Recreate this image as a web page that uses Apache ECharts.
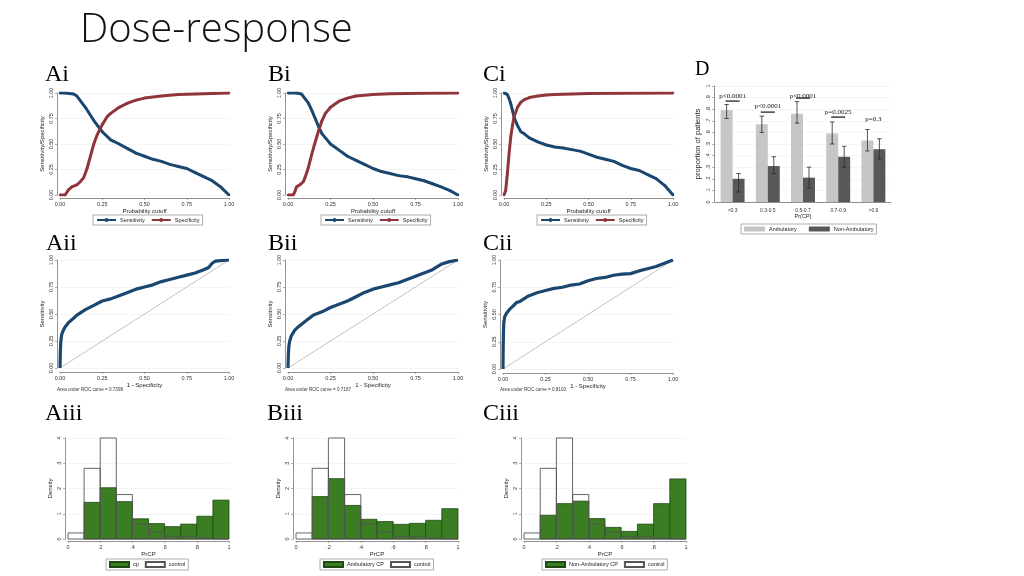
<!DOCTYPE html>
<html><head><meta charset="utf-8">
<script src="https://cdn.jsdelivr.net/npm/echarts@6/dist/echarts.min.js"></script>
<style>html,body{margin:0;padding:0;background:#fff}#c{width:1024px;height:576px}</style>
</head><body><div id="c"></div><script>
// ---------- tick labels ----------
const probTicks = ['0.00','0.25','0.50','0.75','1.00'];
const histXTicks = ['0','.2','.4','.6','.8','1'];
const histYTicks = ['0','1','2','3','4'];
const propTicks = ['0','.1','.2','.3','.4','.5','.6','.7','.8','.9','1'];

// ---------- row i: sensitivity / specificity vs cutoff ----------
const sensA = [[0,1],[0.03,1],[0.08,0.99],[0.1,0.97],[0.15,0.86],[0.2,0.73],[0.25,0.62],[0.3,0.54],[0.35,0.5],[0.4,0.455],[0.45,0.41],[0.5,0.38],[0.55,0.35],[0.6,0.33],[0.65,0.3],[0.7,0.28],[0.75,0.26],[0.8,0.22],[0.85,0.18],[0.9,0.14],[0.95,0.08],[1,0]];
const specA = [[0,0],[0.03,0],[0.05,0.05],[0.07,0.08],[0.1,0.1],[0.12,0.13],[0.14,0.17],[0.16,0.26],[0.18,0.38],[0.2,0.5],[0.22,0.59],[0.25,0.69],[0.28,0.77],[0.3,0.8],[0.35,0.86],[0.4,0.9],[0.45,0.93],[0.5,0.95],[0.6,0.97],[0.7,0.985],[0.8,0.99],[0.9,0.995],[1,1]];
const sensB = [[0,1],[0.05,1],[0.08,0.99],[0.1,0.945],[0.12,0.9],[0.14,0.83],[0.16,0.75],[0.18,0.67],[0.2,0.6],[0.22,0.56],[0.25,0.5],[0.3,0.44],[0.35,0.38],[0.4,0.34],[0.45,0.3],[0.5,0.26],[0.55,0.23],[0.6,0.21],[0.65,0.19],[0.7,0.18],[0.75,0.16],[0.8,0.14],[0.85,0.11],[0.9,0.08],[0.95,0.045],[1,0]];
const specB = [[0,0],[0.03,0],[0.04,0.03],[0.05,0.08],[0.07,0.1],[0.09,0.13],[0.1,0.17],[0.12,0.27],[0.14,0.4],[0.16,0.52],[0.18,0.63],[0.2,0.73],[0.22,0.8],[0.25,0.86],[0.3,0.92],[0.35,0.95],[0.4,0.97],[0.5,0.985],[0.6,0.993],[0.8,0.998],[1,1]];
const sensC = [[0,1],[0.01,1],[0.02,0.985],[0.03,0.945],[0.04,0.895],[0.05,0.83],[0.06,0.76],[0.08,0.68],[0.1,0.62],[0.12,0.6],[0.15,0.56],[0.2,0.52],[0.25,0.49],[0.3,0.47],[0.35,0.46],[0.4,0.445],[0.45,0.43],[0.5,0.4],[0.55,0.37],[0.6,0.35],[0.65,0.33],[0.7,0.29],[0.75,0.26],[0.8,0.24],[0.85,0.2],[0.9,0.16],[0.95,0.095],[1,0]];
const specC = [[0,0],[0.01,0.045],[0.02,0.21],[0.03,0.405],[0.04,0.57],[0.05,0.68],[0.06,0.77],[0.08,0.86],[0.1,0.91],[0.12,0.935],[0.15,0.955],[0.2,0.97],[0.25,0.98],[0.3,0.985],[0.4,0.99],[0.5,0.995],[0.7,0.998],[1,1]];

// ---------- row ii: ROC curves (1 - specificity, sensitivity) ----------
const rocA = [[0,0],[0.002,0.15],[0.005,0.25],[0.01,0.31],[0.02,0.35],[0.03,0.38],[0.05,0.42],[0.08,0.46],[0.1,0.49],[0.15,0.54],[0.2,0.58],[0.25,0.62],[0.3,0.64],[0.35,0.67],[0.4,0.7],[0.45,0.73],[0.5,0.75],[0.55,0.77],[0.6,0.8],[0.65,0.82],[0.7,0.84],[0.75,0.86],[0.8,0.88],[0.85,0.91],[0.88,0.93],[0.9,0.97],[0.92,0.99],[0.95,0.995],[1,1]];
const rocB = [[0,0],[0.002,0.12],[0.005,0.2],[0.01,0.25],[0.02,0.3],[0.04,0.35],[0.06,0.38],[0.1,0.43],[0.15,0.49],[0.2,0.52],[0.25,0.56],[0.3,0.59],[0.35,0.62],[0.4,0.66],[0.45,0.7],[0.5,0.73],[0.55,0.75],[0.6,0.77],[0.65,0.79],[0.7,0.82],[0.75,0.85],[0.8,0.88],[0.85,0.91],[0.9,0.96],[0.95,0.985],[1,1]];
const rocC = [[0,0],[0.001,0.2],[0.003,0.35],[0.005,0.43],[0.01,0.48],[0.02,0.51],[0.04,0.55],[0.06,0.58],[0.08,0.61],[0.1,0.62],[0.15,0.67],[0.2,0.7],[0.25,0.72],[0.3,0.74],[0.35,0.75],[0.4,0.77],[0.45,0.78],[0.5,0.81],[0.55,0.83],[0.6,0.84],[0.65,0.86],[0.7,0.87],[0.75,0.875],[0.8,0.9],[0.85,0.92],[0.9,0.94],[0.95,0.97],[1,1]];
const refLine = [[0,0],[1,1]];
const aucTexts = ['Area under ROC curve = 0.7399','Area under ROC curve = 0.7167','Area under ROC curve = 0.8103'];

// ---------- row iii: histograms of PrCP (density) ----------
const binStarts = [0,0.1,0.2,0.3,0.4,0.5,0.6,0.7,0.8,0.9];
const BIN_W = 0.1;
const cpAll = [0,1.45,2.03,1.48,0.8,0.61,0.49,0.59,0.9,1.54];
const cpAmb = [0,1.68,2.39,1.33,0.78,0.69,0.58,0.62,0.74,1.2];
const cpNonAmb = [0,0.94,1.4,1.5,0.81,0.46,0.3,0.59,1.4,2.38];
const control = [0.24,2.8,4.0,1.76,0.58,0.26,0.1,0.1,0.04,0.01];

// ---------- panel D ----------
const dCats = ['<0.3','0.3-0.5','0.5-0.7','0.7-0.9','>0.9'];
const ambulatory = [0.79,0.67,0.76,0.59,0.53];
const nonAmbulatory = [0.2,0.31,0.21,0.39,0.455];
const ambLo = [0.72,0.6,0.68,0.5,0.44];
const ambHi = [0.84,0.74,0.865,0.69,0.625];
const naLo = [0.086,0.245,0.12,0.3,0.37];
const naHi = [0.245,0.39,0.3,0.48,0.545];
const pLabels = ['p<0.0001','p<0.0001','p<0.0001','p=0.0025','p=0.3'];
const pTextY = [0.914,0.827,0.914,0.775,0.71];
const pLineY = [0.87,0.775,0.896,0.732,null];

// ---------- styling ----------
const FONT = 'Liberation Sans';
const BLUE = '#1a476f', RED = '#90353b', GREEN = '#3a7d22', GREEN_EDGE = '#1f4a12';
const AXIS_COL = '#777';
const BAR_GAP = 0.32;

const grids = [
  {left:60, top:93, width:169, height:102},   // 0 Ai
  {left:288, top:93, width:170, height:102},  // 1 Bi
  {left:504, top:93, width:169, height:102},  // 2 Ci
  {left:60, top:260, width:169, height:108},  // 3 Aii
  {left:288, top:260, width:170, height:108}, // 4 Bii
  {left:503, top:260, width:170, height:109}, // 5 Cii
  {left:68, top:438, width:161, height:101},  // 6 Aiii
  {left:296, top:438, width:162, height:101}, // 7 Biii
  {left:524, top:438, width:162, height:101}, // 8 Ciii
  {left:715, top:86, width:176, height:116}   // 9 D
];

const lblStyle = {fontSize:5.5, fontFamily:FONT, color:'#333'};
function valAxis(gi, dim, o) {
  return {
    type:'value', gridIndex:gi, min:o.min, max:o.max, interval:o.interval,
    offset:o.offset || 3,
    name:o.name, nameLocation:'middle', nameGap:o.nameGap,
    nameTextStyle:{fontSize:o.nameSize || 6, fontFamily:FONT, color:'#222'},
    axisLine:{show:true, onZero:false, lineStyle:{color:AXIS_COL, width:0.8}},
    axisTick:{show:true, length:2, lineStyle:{color:AXIS_COL, width:0.6}},
    axisLabel:Object.assign({margin:o.margin || 3, formatter:o.fmt, rotate: dim==='y' ? 90 : 0}, lblStyle),
    splitLine:{show: dim==='y', lineStyle:{color:'#eeeeee', width:0.6}}
  };
}

const xAxes = [], yAxes = [];
const probFmt = v => probTicks[Math.round(v/0.25)];
for (let g=0; g<3; g++) {
  xAxes.push(valAxis(g,'x',{min:0,max:1,interval:0.25,name:'Probability cutoff',nameGap:8,fmt:probFmt}));
  yAxes.push(valAxis(g,'y',{min:0,max:1,interval:0.25,name:'Sensitivity/Specificity',nameGap:12,fmt:probFmt}));
}
for (let g=3; g<6; g++) {
  xAxes.push(valAxis(g,'x',{min:0,max:1,interval:0.25,name:'1 - Specificity',nameGap:9,fmt:probFmt,offset:4}));
  yAxes.push(valAxis(g,'y',{min:0,max:1,interval:0.25,name:'Sensitivity',nameGap:12,fmt:probFmt}));
}
for (let g=6; g<9; g++) {
  xAxes.push(valAxis(g,'x',{min:0,max:1,interval:0.2,name:'PrCP',nameGap:8,offset:2,fmt:v=>histXTicks[Math.round(v/0.2)]}));
  yAxes.push(valAxis(g,'y',{min:0,max:4,interval:1,name:'Density',nameGap:12,fmt:v=>histYTicks[Math.round(v)]}));
}
xAxes.push({
  type:'category', gridIndex:9, data:dCats, name:'Pr(CP)', nameLocation:'middle', nameGap:10,
  nameTextStyle:{fontSize:5.5, fontFamily:FONT, color:'#222'},
  axisLine:{show:true, lineStyle:{color:AXIS_COL, width:0.8}}, axisTick:{show:false},
  axisLabel:Object.assign({margin:6}, lblStyle, {fontSize:5})
});
yAxes.push(valAxis(9,'y',{min:0,max:1,interval:0.1,name:'proportion of patients',nameGap:12,nameSize:7.5,offset:1,fmt:v=>propTicks[Math.round(v*10)]}));

const series = [];
function lineSeries(name, gi, data, color, width, sym) {
  return {type:'line', name, xAxisIndex:gi, yAxisIndex:gi, data, color,
    symbol: sym ? 'circle' : 'none', symbolSize:2.5, showSymbol: !!sym,
    lineStyle:{color, width}, itemStyle:{color}, silent:true, z:3};
}
[[sensA,specA],[sensB,specB],[sensC,specC]].forEach((p,g)=>{
  series.push(lineSeries('Sensitivity', g, p[0], BLUE, 3, true));
  series.push(lineSeries('Specificity', g, p[1], RED, 3, true));
});
[rocA,rocB,rocC].forEach((r,i)=>{
  const g = 3+i;
  series.push(Object.assign(lineSeries('ref'+g, g, refLine, '#999', 0.6, false), {z:2}));
  series.push(lineSeries('roc'+g, g, r, BLUE, 3.2, false));
});

function histSeries(name, gi, values, isCtrl) {
  return {
    type:'custom', name, xAxisIndex:gi, yAxisIndex:gi, silent:true,
    data: binStarts.map((b,i)=>[b, values[i]]),
    encode:{x:0, y:1},
    itemStyle: isCtrl ? {color:'#ffffff', borderColor:'#555', borderWidth:0.8}
                      : {color:GREEN, borderColor:GREEN_EDGE, borderWidth:0.8},
    z: isCtrl ? 4 : 3,
    renderItem: (params, api) => {
      const x0 = api.value(0), h = api.value(1);
      if (!h) return null;
      const p0 = api.coord([x0, h]), p1 = api.coord([x0 + BIN_W, 0]);
      return {type:'rect',
        shape:{x:p0[0], y:p0[1], width:p1[0]-p0[0], height:p1[1]-p0[1]},
        style: isCtrl ? {fill:'none', stroke:'#555', lineWidth:0.9}
                      : {fill:GREEN, stroke:GREEN_EDGE, lineWidth:0.8}};
    }
  };
}
series.push(histSeries('cp', 6, cpAll, false));
series.push(histSeries('control', 6, control, true));
series.push(histSeries('Ambulatory CP', 7, cpAmb, false));
series.push(histSeries('control', 7, control, true));
series.push(histSeries('Non-Ambulatory CP', 8, cpNonAmb, false));
series.push(histSeries('control', 8, control, true));

// panel D bars
series.push({type:'bar', name:'Ambulatory', xAxisIndex:9, yAxisIndex:9, data:ambulatory,
  barGap:'0%', barCategoryGap:(BAR_GAP*100)+'%', itemStyle:{color:'#c6c6c6'}, silent:true});
series.push({type:'bar', name:'Non-Ambulatory', xAxisIndex:9, yAxisIndex:9, data:nonAmbulatory,
  barGap:'0%', barCategoryGap:(BAR_GAP*100)+'%', itemStyle:{color:'#585858'}, silent:true});
function errSeries(lo, hi, side) {
  return {type:'custom', name:'err'+side, xAxisIndex:9, yAxisIndex:9, silent:true, z:5,
    data: lo.map((l,i)=>[i, l, hi[i]]), encode:{x:0, y:[1,2]},
    renderItem:(params, api)=>{
      const i = api.value(0);
      const pl = api.coord([i, api.value(1)]), ph = api.coord([i, api.value(2)]);
      const band = api.size([1,0])[0];
      const bw = band*(1-BAR_GAP)/2;
      const x = pl[0] + side*bw/2;
      const cap = 2.2, st = {stroke:'#2a2a2a', lineWidth:0.8};
      return {type:'group', children:[
        {type:'line', shape:{x1:x, y1:pl[1], x2:x, y2:ph[1]}, style:st},
        {type:'line', shape:{x1:x-cap, y1:pl[1], x2:x+cap, y2:pl[1]}, style:st},
        {type:'line', shape:{x1:x-cap, y1:ph[1], x2:x+cap, y2:ph[1]}, style:st}
      ]};
    }};
}
series.push(errSeries(ambLo, ambHi, -1));
series.push(errSeries(naLo, naHi, 1));
series.push({type:'custom', name:'pvals', xAxisIndex:9, yAxisIndex:9, silent:true, z:6,
  data: pLabels.map((t,i)=>[i, pTextY[i]]),
  encode:{x:0, y:1},
  renderItem:(params, api)=>{
    const i = api.value(0);
    const pt = api.coord([i, api.value(1)]);
    const children = [{type:'text', style:{text:pLabels[params.dataIndex], x:pt[0], y:pt[1],
      align:'center', verticalAlign:'middle', font:'7px "Liberation Serif"', fill:'#111'}}];
    const ly = pLineY[params.dataIndex];
    if (ly != null) {
      const pl = api.coord([i, ly]);
      children.push({type:'line', shape:{x1:pl[0]-7, y1:pl[1], x2:pl[0]+7, y2:pl[1]}, style:{stroke:'#111', lineWidth:1.2}});
    }
    return {type:'group', children};
  }});

function legend(left, top, data, extra) {
  return Object.assign({left, top, data, orient:'horizontal', itemWidth:19, itemHeight:5, itemGap:6,
    padding:[2,3], borderColor:'#777', borderWidth:0.6, backgroundColor:'#fff', selectedMode:false,
    textStyle:{fontSize:5.5, fontFamily:FONT, color:'#222', padding:[0,0,0,-1]}}, extra || {});
}
const legends = [
  legend(93, 215, ['Sensitivity','Specificity']),
  legend(321, 215, ['Sensitivity','Specificity']),
  legend(537, 215, ['Sensitivity','Specificity']),
  legend(106, 559, ['cp','control'], {icon:'rect'}),
  legend(320, 559, ['Ambulatory CP','control'], {icon:'rect'}),
  legend(542, 559, ['Non-Ambulatory CP','control'], {icon:'rect'}),
  legend(741, 224, ['Ambulatory','Non-Ambulatory'], {icon:'rect', itemWidth:21, itemHeight:5, itemGap:12})
];

function txt(text, x, y, font, extra) {
  return {type:'text', x, y, silent:true, style:Object.assign({text, font, fill:'#000', align:'left', verticalAlign:'middle'}, extra || {})};
}
const panelFont = '24px "Liberation Serif"';
const graphics = [
  txt('Dose-response', 80, 31, '300 40px "Open Sans"', {fill:'#111'}),
  txt('Ai', 45, 75, panelFont), txt('Bi', 268, 75, panelFont), txt('Ci', 483, 75, panelFont),
  txt('D', 695, 70, '20px "Liberation Serif"'),
  txt('Aii', 46, 244, panelFont), txt('Bii', 268, 244, panelFont), txt('Cii', 483, 244, panelFont),
  txt('Aiii', 45, 414, panelFont), txt('Biii', 267, 414, panelFont), txt('Ciii', 483, 414, panelFont),
  txt(aucTexts[0], 57, 390, '4.6px "Liberation Sans"', {fill:'#333'}),
  txt(aucTexts[1], 285, 390, '4.6px "Liberation Sans"', {fill:'#333'}),
  txt(aucTexts[2], 500, 390, '4.6px "Liberation Sans"', {fill:'#333'})
];

const chart = echarts.init(document.getElementById('c'), null, {renderer:'canvas'});
chart.setOption({
  animation:false, backgroundColor:'#fff',
  grid: grids.map(g=>Object.assign({containLabel:false}, g)),
  xAxis: xAxes, yAxis: yAxes, series, legend: legends, graphic: graphics
});
</script></body></html>
